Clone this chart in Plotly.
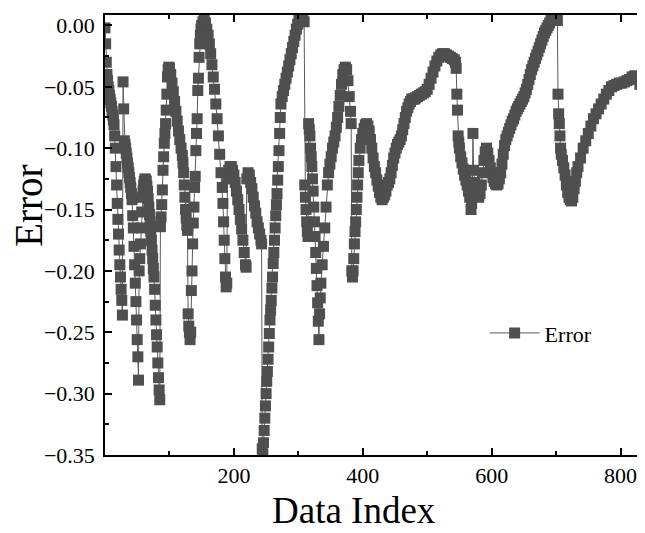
import plotly.graph_objects as go

idx = [0,1,2,3,4,5,6,7,8,9,10,11,12,13,14,15,16,17,18,19,20,21,22,23,24,25,26,27,
       28,29,30,31,32,33,34,35,36,37,38,39,40,41,42,43,44,45,46,47,48,49,50,51,52,
       53,54,55,56,57,58,59,60,61,62,63,64,65,66,67,68,69,70,71,72,73,74,75,76,
       77,78,79,80,81,82,83,84,85,
       86,87,88,89,90,91,92,93,94,95,96,97,98,99,100,102,104,106,108,110,112,114,116,118,
       120,121,122,123,124,125,126,127,128,129,130,131,132,133,
       134,135,136,137,138,139,140,141,142,143,144,145,146,147,148,149,150,152,154,156,158,
       160,162,164,166,168,170,172,174,176,178,180,182,183,184,185,186,187,188,189,
       190,192,194,196,198,200,202,204,206,208,210,212,214,216,218,219,
       220,222,224,226,228,230,232,234,236,238,240,242,243,244,245,
       246,247,248,249,250,251,252,253,254,255,256,257,258,259,260,261,262,263,264,265,
       266,267,268,269,270,271,272,273,275,277,279,281,283,285,287,289,291,293,295,297,
       299,301,303,305,307,309,
       310,311,312,313,314,315,316,317,318,319,320,321,322,323,324,325,326,327,328,329,
       330,331,332,333,334,335,337,339,341,343,345,347,349,351,353,355,357,359,361,363,
       365,367,369,371,373,375,377,379,381,382,
       383,384,385,386,387,388,389,390,391,392,393,394,396,398,400,402,404,406,408,410,
       412,414,416,418,420,422,424,426,428,430,432,434,436,438,440,442,444,446,448,450,
       452,454,456,458,460,462,464,466,468,470,472,474,476,478,480,482,485,488,491,494,
       497,500,503,506,509,512,515,518,521,524,527,530,533,536,539,542,544,
       545,546,547,548,549,550,552,554,556,558,560,562,564,566,568,569,570,571,572,574,
       576,578,580,582,584,586,588,590,592,594,596,598,600,602,604,606,608,610,612,614,
       616,618,620,622,624,626,628,630,632,634,636,638,640,642,644,646,648,650,652,654,
       656,658,660,662,664,666,668,670,672,674,676,678,680,682,684,686,688,690,692,694,
       696,698,700,702,
       703,704,705,706,707,708,710,712,714,716,718,720,722,724,726,728,730,732,734,738,
       742,746,750,754,758,762,766,770,774,778,782,786,790,794,798,802,806,810,814,818,
       822,826,830,834,838]

err = [-0.002,-0.015,-0.03,-0.04,-0.045,-0.05,-0.053,-0.057,-0.06,-0.063,-0.066,-0.07,-0.073,-0.077,-0.081,-0.09,-0.1,-0.115,-0.13,-0.145,-0.158,-0.17,-0.183,-0.195,-0.205,-0.215,-0.224,-0.236,
       -0.046,-0.068,-0.094,-0.097,-0.1,-0.104,-0.108,-0.112,-0.116,-0.12,-0.124,-0.128,-0.132,-0.137,-0.142,-0.155,-0.165,-0.18,-0.195,-0.21,-0.225,-0.24,-0.256,-0.27,-0.289,
       -0.2,-0.19,-0.178,-0.165,-0.152,-0.14,-0.135,-0.13,-0.127,-0.125,-0.126,-0.127,-0.131,-0.135,-0.141,-0.148,-0.154,-0.16,-0.168,-0.175,-0.183,-0.19,-0.198,-0.205,
       -0.215,-0.228,-0.24,-0.252,-0.262,-0.275,-0.287,-0.297,-0.305,
       -0.164,-0.156,-0.146,-0.134,-0.118,-0.107,-0.096,-0.088,-0.08,-0.069,-0.056,-0.042,-0.036,-0.034,-0.035,-0.04,-0.047,-0.054,-0.062,-0.07,-0.078,-0.086,-0.093,-0.1,
       -0.106,-0.112,-0.12,-0.13,-0.14,-0.15,-0.157,-0.163,-0.167,-0.235,-0.245,-0.25,-0.256,-0.25,
       -0.216,-0.2,-0.178,-0.161,-0.148,-0.132,-0.123,-0.102,-0.088,-0.076,-0.053,-0.043,-0.026,-0.015,-0.008,-0.003,0.0,0.003,0.004,0.002,-0.003,
       -0.008,-0.015,-0.023,-0.032,-0.042,-0.052,-0.064,-0.076,-0.09,-0.105,-0.12,-0.132,-0.145,-0.16,-0.175,-0.19,-0.205,-0.213,-0.21,
       -0.125,-0.118,-0.115,-0.115,-0.118,-0.122,-0.128,-0.135,-0.142,-0.15,-0.158,-0.166,-0.175,-0.185,-0.195,-0.197,
       -0.125,-0.12,-0.122,-0.128,-0.133,-0.14,-0.147,-0.153,-0.16,-0.165,-0.17,-0.175,-0.178,-0.345,-0.35,
       -0.34,-0.33,-0.32,-0.31,-0.3,-0.29,-0.282,-0.272,-0.262,-0.251,-0.24,-0.232,-0.224,-0.214,-0.205,-0.194,-0.185,-0.175,-0.165,-0.155,
       -0.146,-0.137,-0.126,-0.115,-0.102,-0.088,-0.075,-0.064,-0.058,-0.053,-0.048,-0.043,-0.038,-0.033,-0.028,-0.023,-0.018,-0.013,-0.008,-0.003,
       0.001,0.004,0.006,0.006,0.005,0.003,
       -0.13,-0.14,-0.15,-0.16,-0.168,-0.172,-0.08,-0.085,-0.09,-0.1,-0.107,-0.115,-0.125,-0.135,-0.148,-0.16,-0.172,-0.185,-0.198,-0.212,
       -0.226,-0.241,-0.256,-0.235,-0.222,-0.21,-0.195,-0.18,-0.165,-0.148,-0.13,-0.12,-0.113,-0.107,-0.1,-0.095,-0.09,-0.083,-0.075,-0.066,
       -0.057,-0.048,-0.04,-0.036,-0.034,-0.036,-0.045,-0.058,-0.07,-0.08,
       -0.2,-0.205,-0.2,-0.19,-0.178,-0.168,-0.16,-0.15,-0.14,-0.13,-0.12,-0.11,-0.1,-0.093,-0.088,-0.084,-0.081,-0.08,-0.082,-0.086,
       -0.093,-0.1,-0.108,-0.115,-0.12,-0.126,-0.131,-0.136,-0.14,-0.142,-0.14,-0.138,-0.135,-0.13,-0.128,-0.125,-0.12,-0.114,-0.108,-0.104,
       -0.1,-0.097,-0.095,-0.093,-0.09,-0.085,-0.08,-0.075,-0.07,-0.067,-0.064,-0.062,-0.06,-0.06,-0.06,-0.059,-0.058,-0.057,-0.056,-0.055,
       -0.054,-0.052,-0.048,-0.043,-0.038,-0.033,-0.029,-0.026,-0.024,-0.023,-0.023,-0.024,-0.025,-0.026,-0.027,-0.028,-0.03,
       -0.035,-0.056,-0.069,-0.09,-0.095,-0.1,-0.107,-0.112,-0.117,-0.122,-0.126,-0.13,-0.135,-0.14,-0.15,-0.145,-0.138,-0.088,-0.118,-0.128,
       -0.134,-0.138,-0.14,-0.137,-0.13,-0.12,-0.11,-0.103,-0.1,-0.104,-0.11,-0.116,-0.12,-0.124,-0.127,-0.129,-0.13,-0.129,-0.125,-0.12,
       -0.113,-0.105,-0.098,-0.093,-0.09,-0.087,-0.084,-0.081,-0.078,-0.076,-0.073,-0.07,-0.068,-0.066,-0.064,-0.062,-0.06,-0.058,-0.055,-0.052,
       -0.048,-0.044,-0.04,-0.036,-0.033,-0.03,-0.027,-0.024,-0.021,-0.018,-0.015,-0.012,-0.009,-0.006,-0.004,-0.002,0.0,0.002,0.004,0.005,
       0.006,0.006,0.005,0.004,
       -0.056,-0.072,-0.08,-0.09,-0.1,-0.105,-0.11,-0.116,-0.122,-0.13,-0.136,-0.14,-0.142,-0.143,-0.14,-0.133,-0.127,-0.12,-0.115,-0.108,
       -0.1,-0.094,-0.088,-0.082,-0.076,-0.072,-0.068,-0.064,-0.06,-0.056,-0.053,-0.05,-0.049,-0.048,-0.047,-0.047,-0.046,-0.045,-0.044,-0.042,
       -0.041,-0.043,-0.048,-0.053,-0.05]

assert len(idx) == len(err), (len(idx), len(err))

x_ticks = [200, 400, 600, 800]
x_ticklabels = ["200", "400", "600", "800"]
y_ticks = [0.00, -0.05, -0.10, -0.15, -0.20, -0.25, -0.30, -0.35]
y_ticklabels = ["0.00", "\u22120.05", "\u22120.10", "\u22120.15", "\u22120.20", "\u22120.25", "\u22120.30", "\u22120.35"]
series_name = "Error"
x_title = "Data Index"
y_title = "Error"

FONT = "Liberation Serif, Times New Roman, serif"

fig = go.Figure()
fig.add_trace(go.Scatter(
    x=idx, y=err, mode="lines+markers", name=series_name,
    line=dict(color="#5a5a5a", width=1),
    marker=dict(symbol="square", size=11, color="#4f4f4f", line=dict(width=0)),
))

# page body has an 8px default margin, so the figure is sized to fit the window
fig.update_layout(
    width=637, height=525,
    margin=dict(l=97, r=0, t=7, b=78, autoexpand=False),
    paper_bgcolor="white", plot_bgcolor="white",
    font=dict(family=FONT, color="black", size=22),
    showlegend=True,
    legend=dict(x=0.703, y=0.277, xanchor="left", yanchor="middle", itemwidth=50,
                bgcolor="rgba(0,0,0,0)", font=dict(family=FONT, size=22, color="black")),
    xaxis=dict(
        range=[0, 838], showgrid=False, zeroline=False, automargin=False,
        showline=True, linecolor="black", linewidth=1.5, mirror="ticks",
        ticks="inside", ticklen=7, tickwidth=1.5, tickcolor="black",
        tickvals=x_ticks, ticktext=x_ticklabels,
        minor=dict(ticks="inside", ticklen=4, tickwidth=1.5, tickcolor="black",
                   tickvals=[100, 300, 500, 700]),
        tickfont=dict(family=FONT, size=22, color="black"),
    ),
    yaxis=dict(
        range=[-0.35, 0.0085], showgrid=False, zeroline=False, automargin=False,
        showline=True, linecolor="black", linewidth=1.5, mirror=False,
        ticks="inside", ticklen=7, tickwidth=1.5, tickcolor="black",
        tickvals=y_ticks, ticktext=y_ticklabels, ticklabelstandoff=4,
        minor=dict(ticks="inside", ticklen=4, tickwidth=1.5, tickcolor="black",
                   tickvals=[-0.025, -0.075, -0.125, -0.175, -0.225, -0.275, -0.325]),
        tickfont=dict(family=FONT, size=22, color="black"),
    ),
    annotations=[
        dict(text=x_title, xref="paper", yref="paper", x=0.461, y=-0.125,
             xanchor="center", yanchor="middle", showarrow=False,
             font=dict(family=FONT, size=37, color="black")),
        dict(text=y_title, xref="paper", yref="paper", x=-0.141, y=0.566,
             xanchor="center", yanchor="middle", showarrow=False, textangle=-90,
             font=dict(family=FONT, size=39, color="black")),
    ],
)

fig.write_html("out.html")
